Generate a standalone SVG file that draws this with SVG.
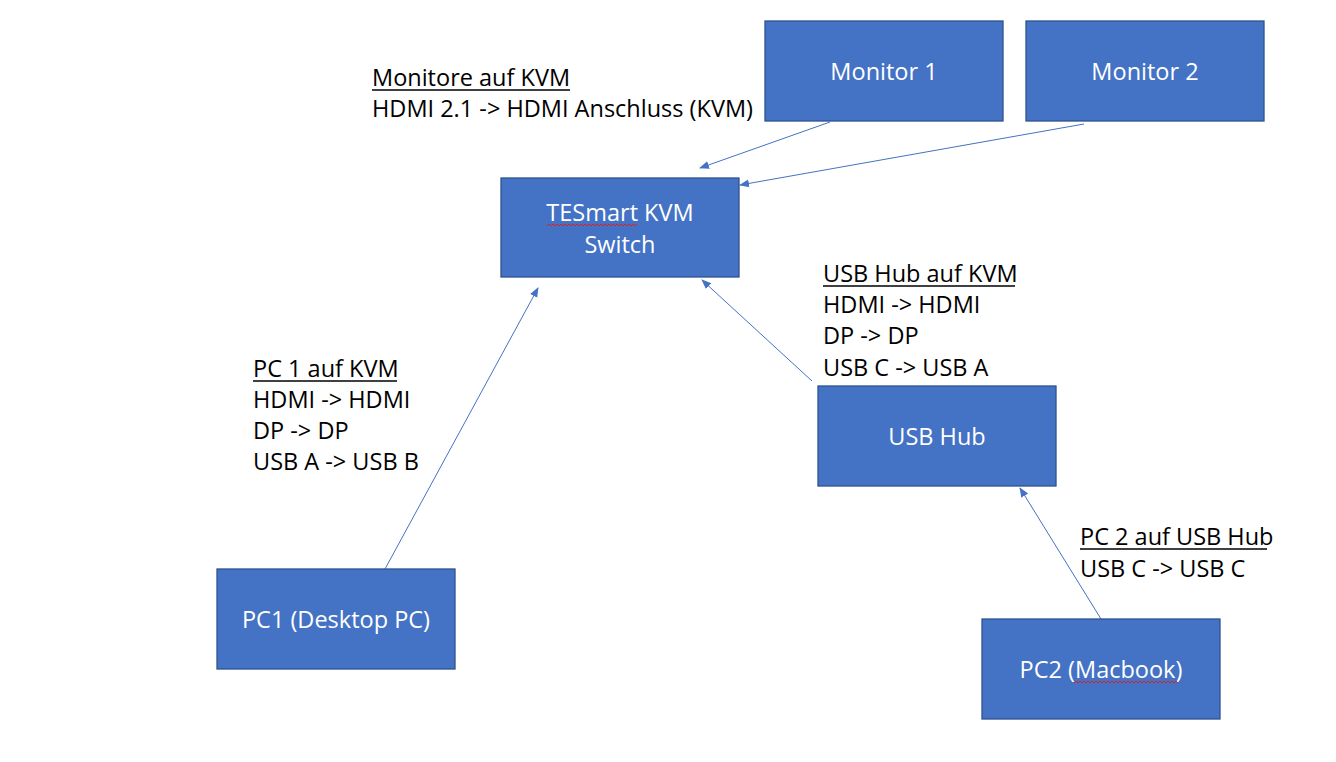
<svg xmlns="http://www.w3.org/2000/svg" width="1336" height="762" viewBox="0 0 1336 762">
<defs>
<style>
.box{fill:#4472C4;stroke:#2F528F;stroke-width:1.3}
.bt{font-family:"Open Sans","Noto Sans",sans-serif;font-size:23.5px;fill:#ffffff;text-anchor:middle}
.lt{font-family:"Open Sans","Noto Sans",sans-serif;font-size:23.5px;fill:#000000}
.ul{stroke:#000;stroke-width:1.5}
.edge{stroke:#4472C4;stroke-width:1;fill:none;marker-end:url(#ah)}
.sq{stroke:#E02020;stroke-width:1;fill:none}
</style>
<marker id="ah" viewBox="0 0 10 10" refX="9" refY="5" markerWidth="10" markerHeight="10" markerUnits="userSpaceOnUse" orient="auto">
<path d="M0,1 L10,5 L0,9 z" fill="#4472C4"/>
</marker>
</defs>
<rect width="1336" height="762" fill="#ffffff"/>
<g id="connectors">
<line class="edge" x1="830" y1="122" x2="700" y2="168"/>
<line class="edge" x1="1084" y1="124" x2="740" y2="185"/>
<line class="edge" x1="385" y1="569" x2="538" y2="288"/>
<line class="edge" x1="812" y1="381" x2="702" y2="280"/>
<line class="edge" x1="1101" y1="619" x2="1020" y2="488"/>
</g>
<g id="monitor1"><rect class="box" x="765" y="21" width="238" height="100"/><text class="bt" x="884" y="80">Monitor 1</text></g>
<g id="monitor2"><rect class="box" x="1026" y="21" width="238" height="100"/><text class="bt" x="1145" y="80">Monitor 2</text></g>
<g id="kvm"><rect class="box" x="501" y="178" width="238" height="99"/><text class="bt" x="620" y="221">TESmart KVM</text><text class="bt" x="620" y="253">Switch</text><path class="sq" d="M547,226 l2,-2 l2,2 l2,-2 l2,2 l2,-2 l2,2 l2,-2 l2,2 l2,-2 l2,2 l2,-2 l2,2 l2,-2 l2,2 l2,-2 l2,2 l2,-2 l2,2 l2,-2 l2,2 l2,-2 l2,2 l2,-2 l2,2 l2,-2 l2,2 l2,-2 l2,2 l2,-2 l2,2 l2,-2 l2,2 l2,-2 l2,2 l2,-2 l2,2 l2,-2 l2,2 l2,-2 l2,2 l2,-2 l2,2 l2,-2 l2,2 l2,-2"/></g>
<g id="usbhub"><rect class="box" x="818" y="386" width="238" height="100"/><text class="bt" x="937" y="445">USB Hub</text></g>
<g id="pc1"><rect class="box" x="217" y="569" width="238" height="100"/><text class="bt" x="336" y="628">PC1 (Desktop PC)</text></g>
<g id="pc2"><rect class="box" x="982" y="619" width="238" height="100"/><text class="bt" x="1101" y="678">PC2 (Macbook)</text><path class="sq" d="M1074,683 l2,-2 l2,2 l2,-2 l2,2 l2,-2 l2,2 l2,-2 l2,2 l2,-2 l2,2 l2,-2 l2,2 l2,-2 l2,2 l2,-2 l2,2 l2,-2 l2,2 l2,-2 l2,2 l2,-2 l2,2 l2,-2 l2,2 l2,-2 l2,2 l2,-2 l2,2 l2,-2 l2,2 l2,-2 l2,2 l2,-2 l2,2 l2,-2 l2,2 l2,-2 l2,2 l2,-2 l2,2 l2,-2 l2,2 l2,-2 l2,2 l2,-2 l2,2 l2,-2 l2,2 l2,-2 l2,2 l2,-2 l2,2"/></g>
<g id="label-monitore">
<text class="lt" x="372" y="86">Monitore auf KVM</text><line class="ul" x1="372" y1="90" x2="570" y2="90"/>
<text class="lt" x="372" y="117">HDMI 2.1 -&gt; HDMI Anschluss (KVM)</text>
</g>
<g id="label-usbhub">
<text class="lt" x="823" y="282">USB Hub auf KVM</text><line class="ul" x1="823" y1="286" x2="1015" y2="286"/>
<text class="lt" x="823" y="313">HDMI -&gt; HDMI</text>
<text class="lt" x="823" y="344">DP -&gt; DP</text>
<text class="lt" x="823" y="376">USB C -&gt; USB A</text>
</g>
<g id="label-pc1">
<text class="lt" x="253" y="377">PC 1 auf KVM</text><line class="ul" x1="253" y1="381" x2="397" y2="381"/>
<text class="lt" x="253" y="408">HDMI -&gt; HDMI</text>
<text class="lt" x="253" y="439">DP -&gt; DP</text>
<text class="lt" x="253" y="470">USB A -&gt; USB B</text>
</g>
<g id="label-pc2">
<text class="lt" x="1080" y="545">PC 2 auf USB Hub</text><line class="ul" x1="1080" y1="549" x2="1267" y2="549"/>
<text class="lt" x="1080" y="577">USB C -&gt; USB C</text>
</g>
</svg>
